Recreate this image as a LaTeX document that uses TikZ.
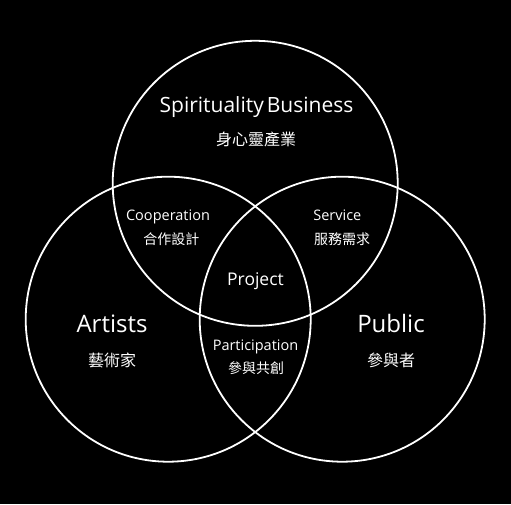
\documentclass[tikz,border=0pt]{standalone}
\usepackage{fontspec}
\setmainfont{Open Sans}
\newfontfamily\cjk{Noto Sans CJK TC}
\begin{document}
\begin{tikzpicture}[x=1pt,y=-1pt,
  ring/.style={draw=white,line width=1.8pt,circle,minimum size=285pt,inner sep=0pt},
  lbl/.style={text=white,inner sep=0pt},
  big/.style={lbl,anchor=base,font=\fontsize{24}{27}\selectfont},
  mid/.style={lbl,anchor=base,font=\fontsize{17.5}{20}\selectfont},
  sml/.style={lbl,anchor=base,font=\fontsize{14.5}{17}\selectfont},
  cjkbig/.style={lbl,anchor=center,font=\cjk\fontsize{16}{18}\selectfont},
  cjksml/.style={lbl,anchor=center,font=\cjk\fontsize{14}{16}\selectfont}]
\fill[black] (0,0) rectangle (511,504);
\useasboundingbox (0,0) rectangle (511,504);
\node[ring] (top) at (255.2,183.3) {};
\node[ring] (left) at (168.2,319.2) {};
\node[ring] (right) at (342.2,319.2) {};
\node[big,font=\fontsize{21}{24}\selectfont] (sb) at (256.5,112.7) {Spirituality\hspace{3pt}Business};
\node[cjkbig] (sbc) at (256,139.5) {身心靈產業};
\node[sml] (coop) at (168,220.7) {Cooperation};
\node[cjksml] (coopc) at (171.3,239.5) {合作設計};
\node[sml] (serv) at (337.3,220.7) {Service};
\node[cjksml] (servc) at (342,239.5) {服務需求};
\node[mid] (proj) at (255.5,285) {Project};
\node[big] (art) at (112,332.7) {Artists};
\node[cjkbig] (artc) at (112.2,360.5) {藝術家};
\node[big] (pub) at (391,332.7) {Public};
\node[cjkbig] (pubc) at (391,360.5) {參與者};
\node[sml] (part) at (255.5,350.7) {Participation};
\node[cjksml] (partc) at (256,368) {參與共創};
\end{tikzpicture}
\end{document}
